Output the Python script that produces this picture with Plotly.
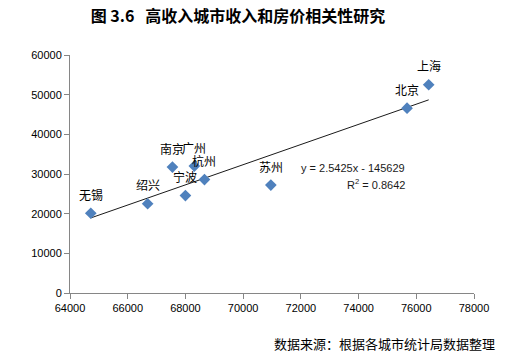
import plotly.graph_objects as go

cities = ["无锡", "绍兴", "南京", "广州", "宁波", "杭州", "苏州", "北京", "上海"]
income = [64720, 66690, 67550, 68310, 68000, 68660, 70960, 75680, 76430]
house_price = [20100, 22500, 31750, 32000, 24550, 28600, 27200, 46600, 52500]

slope = 2.5425
intercept = -145629
r2 = 0.8642

x_ticks = [64000, 66000, 68000, 70000, 72000, 74000, 76000, 78000]
y_ticks = [0, 10000, 20000, 30000, 40000, 50000, 60000]

title_text = "图 3.6\u00a0\u00a0\u00a0高收入城市收入和房价相关性研究"
source_text = "数据来源：根据各城市统计局数据整理"

num_font = "Liberation Sans"
cjk_font = "Noto Sans CJK SC"

# plot area geometry in pixels
L, R, T, B = 70, 474, 55, 293
W, H = R - L, B - T


def px(xp):
    return (xp - L) / W


def py(yp):
    return (B - yp) / H


fig = go.Figure()

xmin, xmax = min(income), max(income)
fig.add_trace(go.Scatter(
    x=[xmin, xmax],
    y=[slope * xmin + intercept, slope * xmax + intercept],
    mode="lines",
    line=dict(color="#1a1a1a", width=1),
    hoverinfo="skip",
    showlegend=False,
))

fig.add_trace(go.Scatter(
    x=income, y=house_price,
    mode="markers",
    marker=dict(symbol="diamond", size=9, color="#4F81BD", line=dict(width=0)),
    showlegend=False,
))

for c, xv, yv in zip(cities, income, house_price):
    fig.add_annotation(
        x=xv, y=yv, xref="x", yref="y", text=c, showarrow=False,
        yshift=19, font=dict(family=cjk_font, size=12, color="#000000"),
    )

fig.add_annotation(
    x=px(407), y=py(168), xref="paper", yref="paper",
    text=f"y = {slope}x - {abs(intercept)}",
    showarrow=False, font=dict(family=num_font, size=11, color="#1a1a1a"),
)
fig.add_annotation(
    x=px(407), y=py(184), xref="paper", yref="paper",
    text=f"R<sup>2</sup> = {r2}",
    showarrow=False, font=dict(family=num_font, size=11, color="#1a1a1a"),
)

fig.add_annotation(
    x=px(497), y=py(343), xref="paper", yref="paper",
    xanchor="right", yanchor="middle", text=source_text, showarrow=False,
    font=dict(family=cjk_font, size=13, color="#000000"),
)

fig.update_layout(
    width=513, height=360,
    margin=dict(l=L, r=513 - R, t=T, b=360 - B),
    paper_bgcolor="white", plot_bgcolor="white",
    title=dict(
        text=f"<b>{title_text}</b>",
        x=238 / 513, xanchor="center", y=1 - 16 / 360, yanchor="middle",
        font=dict(family=cjk_font, size=16, color="#000000"),
    ),
    xaxis=dict(
        range=[64000, 78000], tickvals=x_ticks, ticktext=[str(v) for v in x_ticks],
        showgrid=False, zeroline=False, showline=True, linecolor="#868686", linewidth=1,
        ticks="outside", ticklen=5, tickcolor="#868686",
        tickfont=dict(family=num_font, size=11, color="#000000"),
    ),
    yaxis=dict(
        range=[0, 60000], tickvals=y_ticks, ticktext=[str(v) for v in y_ticks],
        showgrid=False, zeroline=False, showline=True, linecolor="#868686", linewidth=1,
        ticks="outside", ticklen=5, tickcolor="#868686",
        tickfont=dict(family=num_font, size=11, color="#000000"),
    ),
)

fig.write_html(
    "out.html",
    config={"displayModeBar": False},
    post_script="document.body.style.margin='0';document.body.style.padding='0';",
)
